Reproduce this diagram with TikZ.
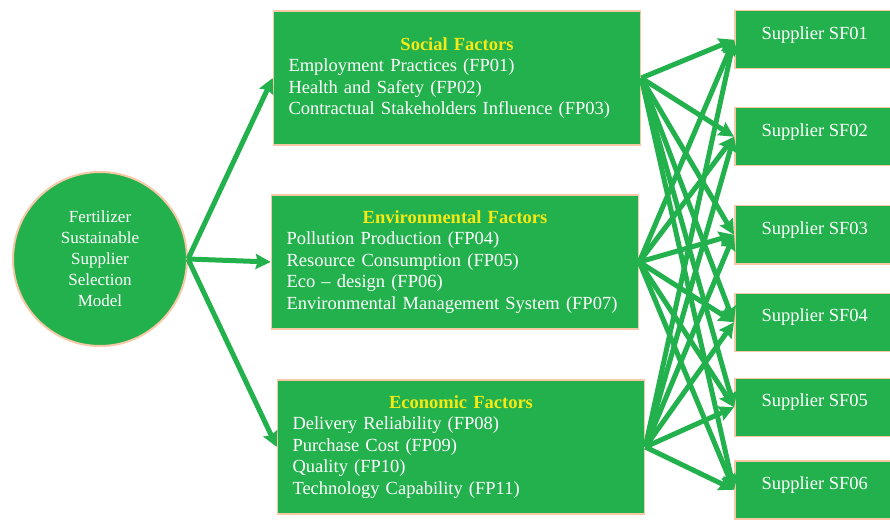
\documentclass[tikz,border=0pt]{standalone}
\usepackage{fontspec}
\setmainfont{Liberation Serif}
\usepackage{xcolor}
\usepackage{tikz}
\usetikzlibrary{shapes,arrows.meta,positioning}

\definecolor{boxgreen}{RGB}{34,177,76}
\definecolor{edgepeach}{RGB}{247,200,165}
\definecolor{titleyellow}{RGB}{246,234,22}

\tikzset{
  factorbox/.style={draw=edgepeach, line width=1.5pt, fill=boxgreen, text=white,
    text width=337pt, inner xsep=15pt, minimum height=134pt, align=left,
    font=\fontsize{18.5}{21.5}\selectfont},
  supplierbox/.style={draw=edgepeach, line width=1.5pt, fill=boxgreen, text=white,
    minimum width=160pt, minimum height=58pt, text depth=14pt,
    font=\fontsize{18.5}{21.5}\selectfont},
  modelnode/.style={circle, draw=edgepeach, line width=2pt, fill=boxgreen, text=white,
    minimum size=174pt, align=center, font=\fontsize{17}{21}\selectfont},
  link/.style={draw=boxgreen, line width=5pt, -{Stealth[length=15pt,width=15pt,inset=2pt]}},
}
\newcommand{\factortitle}[1]{{\centering\bfseries\color{titleyellow}#1\par}}

\begin{document}
\begin{tikzpicture}[x=1pt, y=-1pt]
    \useasboundingbox (0,0) rectangle (890,521);

    \node[modelnode] (model) at (100,259) {Fertilizer\\Sustainable\\Supplier\\Selection\\Model};

    \node[factorbox] (social) at (457,78) {\factortitle{Social Factors}
      Employment Practices (FP01)\\
      Health and Safety (FP02)\\
      Contractual Stakeholders Influence (FP03)};

    \node[factorbox] (environ) at (455,262) {\factortitle{Environmental Factors}
      Pollution Production (FP04)\\
      Resource Consumption (FP05)\\
      Eco -- design (FP06)\\
      Environmental Management System (FP07)};

    \node[factorbox] (economic) at (461,447) {\factortitle{Economic Factors}
      Delivery Reliability (FP08)\\
      Purchase Cost (FP09)\\
      Quality (FP10)\\
      Technology Capability (FP11)};

    \node[supplierbox, anchor=north west] (sf01) at (734,10) {Supplier SF01};
    \node[supplierbox, below=37.5pt of sf01] (sf02) {Supplier SF02};
    \node[supplierbox, below=38.5pt of sf02] (sf03) {Supplier SF03};
    \node[supplierbox, below=28pt of sf03] (sf04) {Supplier SF04};
    \node[supplierbox, below=25.5pt of sf04] (sf05) {Supplier SF05};
    \node[supplierbox, below=23pt of sf05] (sf06) {Supplier SF06};

    % model to factors
    \draw[link] (model.east) -- (social.west);
    \draw[link] (model.east) -- (environ.west);
    \draw[link] (model.east) -- (economic.west);

    % factors to suppliers
    \draw[link] (social.east) -- (sf01.west);
    \draw[link] (social.east) -- (sf02.west);
    \draw[link] (social.east) -- (sf03.west);
    \draw[link] (social.east) -- (sf04.west);
    \draw[link] (social.east) -- (sf05.west);
    \draw[link] (social.east) -- (sf06.west);

    \draw[link] (environ.east) -- (sf01.west);
    \draw[link] (environ.east) -- (sf02.west);
    \draw[link] (environ.east) -- (sf03.west);
    \draw[link] (environ.east) -- (sf04.west);
    \draw[link] (environ.east) -- (sf05.west);
    \draw[link] (environ.east) -- (sf06.west);

    \draw[link] (economic.east) -- (sf01.west);
    \draw[link] (economic.east) -- (sf02.west);
    \draw[link] (economic.east) -- (sf03.west);
    \draw[link] (economic.east) -- (sf04.west);
    \draw[link] (economic.east) -- (sf05.west);
    \draw[link] (economic.east) -- (sf06.west);

  \end{tikzpicture}
\end{document}
